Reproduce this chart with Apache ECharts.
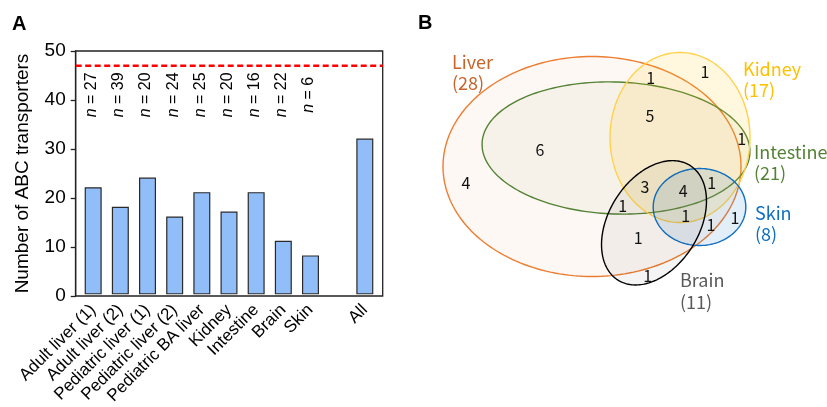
<!DOCTYPE html>
<html><head><meta charset="utf-8">
<script src="https://cdn.jsdelivr.net/npm/echarts@6/dist/echarts.min.js"></script>
<style>html,body{margin:0;padding:0;background:#fff}#c{width:827px;height:407px}</style>
</head><body><div id="c"></div>
<script>
// ---- Panel A data ----
const categories = ['Adult liver (1)','Adult liver (2)','Pediatric liver (1)','Pediatric liver (2)','Pediatric BA liver','Kidney','Intestine','Brain','Skin','','All'];
const abcCounts = [22,18,24,16,21,17,21,11,8,null,32];
const sampleSizes = [27,39,20,24,25,20,16,22,6];
const totalAbcTransporters = 47;
const yTickValues = [0,10,20,30,40,50];

// ---- Panel B data ----
const vennSets = ['Liver','Kidney','Intestine','Skin','Brain'];
const vennTotals = [28,17,21,8,11];
const vennRegionCounts = [1,1,5,1,6,4,3,4,1,1,1,1,1,1,1];

// ---- Panel B layout (pixel-unit coordinates on a hidden 1:1 axis) ----
const vennShapes = {
  Liver:     {cx:592, cy:166.5, rx:149, ry:110, rot:0},
  Intestine: {cx:616, cy:148, rx:134, ry:66, rot:-2},
  Kidney:    {cx:680, cy:137.5, rx:70, ry:85, rot:0},
  Skin:      {cx:699.5, cy:207, rx:46.3, ry:38.5, rot:0},
  Brain:     {cx:654, cy:222.8, rx:67.7, ry:45.1, rot:57.9}
};
const vennStyles = {
  Liver:     {stroke:'#ed7d31', fill:'rgba(237,125,49,0.055)', text:'#c8632a'},
  Intestine: {stroke:'#548235', fill:'rgba(140,170,90,0.065)', text:'#548235'},
  Kidney:    {stroke:'#ffd24d', fill:'rgba(255,196,20,0.14)', text:'#ffc000'},
  Skin:      {stroke:'#0f6fc0', fill:'rgba(20,115,195,0.12)', text:'#0f6fc0'},
  Brain:     {stroke:'#000000', fill:'rgba(0,0,0,0.045)', text:'#595959'}
};
const drawOrder = ['Liver','Intestine','Kidney','Skin','Brain'];
const vennLabelPos = {Liver:[452,51], Kidney:[743,58], Intestine:[754,141], Skin:[755,202], Brain:[680,269.5]};
const regionPos = [[650.7,77.7],[705,71.7],[650,116],[741.7,139.3],[540,150],[466,182.7],[645,186.7],[683.3,190.7],[711.7,182.7],[622.7,206],[685.7,215.7],[711,225.3],[735,218],[638.3,238.3],[647.7,276]];

const AR = "'Liberation Sans', Arial, sans-serif";
const JP = "'Noto Sans CJK JP', 'Noto Sans', sans-serif";

const chart = echarts.init(document.getElementById('c'), null, {renderer:'canvas'});

function ellipsePoints(g, api){
  const pts = [];
  const N = 200;
  const r = g.rot*Math.PI/180, cr = Math.cos(r), sr = Math.sin(r);
  for (let k=0;k<N;k++){
    const t = 2*Math.PI*k/N;
    const ex = g.rx*Math.cos(t), ey = g.ry*Math.sin(t);
    pts.push(api.coord([g.cx + ex*cr + ey*sr, g.cy - ex*sr + ey*cr]));
  }
  return pts;
}

const option = {
  animation:false,
  backgroundColor:'#fff',
  grid:[
    {left:75.7, right:444.3, top:51, bottom:111, show:true, borderColor:'#222', borderWidth:1.3, backgroundColor:'transparent'},
    {left:79.6, right:448.6, top:51, bottom:111},
    {left:0, right:0, top:0, bottom:0}
  ],
  xAxis:[
    {type:'value', gridIndex:0, min:0, max:1, show:false},
    {type:'category', gridIndex:1, data:categories,
      axisLine:{show:false}, axisTick:{show:false},
      axisLabel:{interval:0, rotate:45, fontSize:17, color:'#000', fontFamily:AR, margin:13}},
    {type:'value', gridIndex:2, min:0, max:827, show:false}
  ],
  yAxis:[
    {type:'value', gridIndex:0, min:yTickValues[0], max:yTickValues[yTickValues.length-1], interval:10,
      axisLine:{show:true, lineStyle:{color:'#222', width:1.3}},
      axisTick:{show:true, length:5, lineStyle:{color:'#222', width:1.3}},
      splitLine:{show:false},
      axisLabel:{fontSize:19, color:'#000', fontFamily:AR, margin:10},
      name:'Number of ABC transporters', nameLocation:'middle', nameGap:43, nameRotate:90,
      nameTextStyle:{fontSize:19, color:'#000', fontFamily:AR}},
    {type:'value', gridIndex:1, min:0, max:50, show:false},
    {type:'value', gridIndex:2, min:0, max:407, inverse:true, show:false}
  ],
  series:[
    {type:'line', xAxisIndex:0, yAxisIndex:0, data:[[0,totalAbcTransporters],[1,totalAbcTransporters]],
      symbol:'none', silent:true, lineStyle:{color:'#ff0000', width:2.6, type:[6,3.5]}},
    {type:'bar', xAxisIndex:1, yAxisIndex:1, data:abcCounts, barWidth:17,
      itemStyle:{color:'#91bdf8', borderColor:'#2a2a2a', borderWidth:1.2}},
    {type:'custom', xAxisIndex:1, yAxisIndex:1,
      data:sampleSizes.map((n,i)=>[i,41,n]),
      renderItem:function(params, api){
        const p = api.coord([api.value(0), api.value(1)]);
        return {type:'text', x:p[0]-1.5, y:p[1], rotation:Math.PI/2,
          style:{text:'{i|n} = '+api.value(2), fontSize:16, fontFamily:AR, fill:'#000',
            align:'center', verticalAlign:'middle', textAlign:'center', textVerticalAlign:'middle',
            rich:{i:{fontStyle:'italic', fontSize:16, fontFamily:AR, fill:'#000'}}}};
      }},
    {type:'custom', xAxisIndex:2, yAxisIndex:2, silent:true,
      data:drawOrder.map((s,i)=>[i,0]),
      renderItem:function(params, api){
        const name = drawOrder[params.dataIndex];
        const st = vennStyles[name];
        return {type:'polygon', shape:{points:ellipsePoints(vennShapes[name], api)},
          style:{fill:st.fill, stroke:st.stroke, lineWidth:1.4}};
      }},
    {type:'custom', xAxisIndex:2, yAxisIndex:2, silent:true,
      data:vennSets.map((s,i)=>[vennLabelPos[s][0], vennLabelPos[s][1], vennTotals[i]]),
      renderItem:function(params, api){
        const name = vennSets[params.dataIndex];
        const p = api.coord([api.value(0), api.value(1)]);
        return {type:'text', x:p[0], y:p[1],
          style:{text:name+'\n('+api.value(2)+')', fontSize:18, lineHeight:21.5, fontFamily:JP,
            fill:vennStyles[name].text, align:'left', verticalAlign:'top', textAlign:'left', textVerticalAlign:'top'}};
      }},
    {type:'custom', xAxisIndex:2, yAxisIndex:2, silent:true,
      data:vennRegionCounts.map((c,i)=>[regionPos[i][0], regionPos[i][1], c]),
      renderItem:function(params, api){
        const p = api.coord([api.value(0), api.value(1)]);
        return {type:'text', x:p[0], y:p[1],
          style:{text:String(api.value(2)), fontSize:16, fontFamily:JP, fill:'#111',
            align:'center', verticalAlign:'middle', textAlign:'center', textVerticalAlign:'middle'}};
      }}
  ],
  graphic:[
    {type:'text', left:12, top:14, style:{text:'A', fontSize:20, fontWeight:'bold', fontFamily:AR, fill:'#000'}},
    {type:'text', left:418, top:13, style:{text:'B', fontSize:20, fontWeight:'bold', fontFamily:AR, fill:'#000'}}
  ]
};
chart.setOption(option);
</script></body></html>
